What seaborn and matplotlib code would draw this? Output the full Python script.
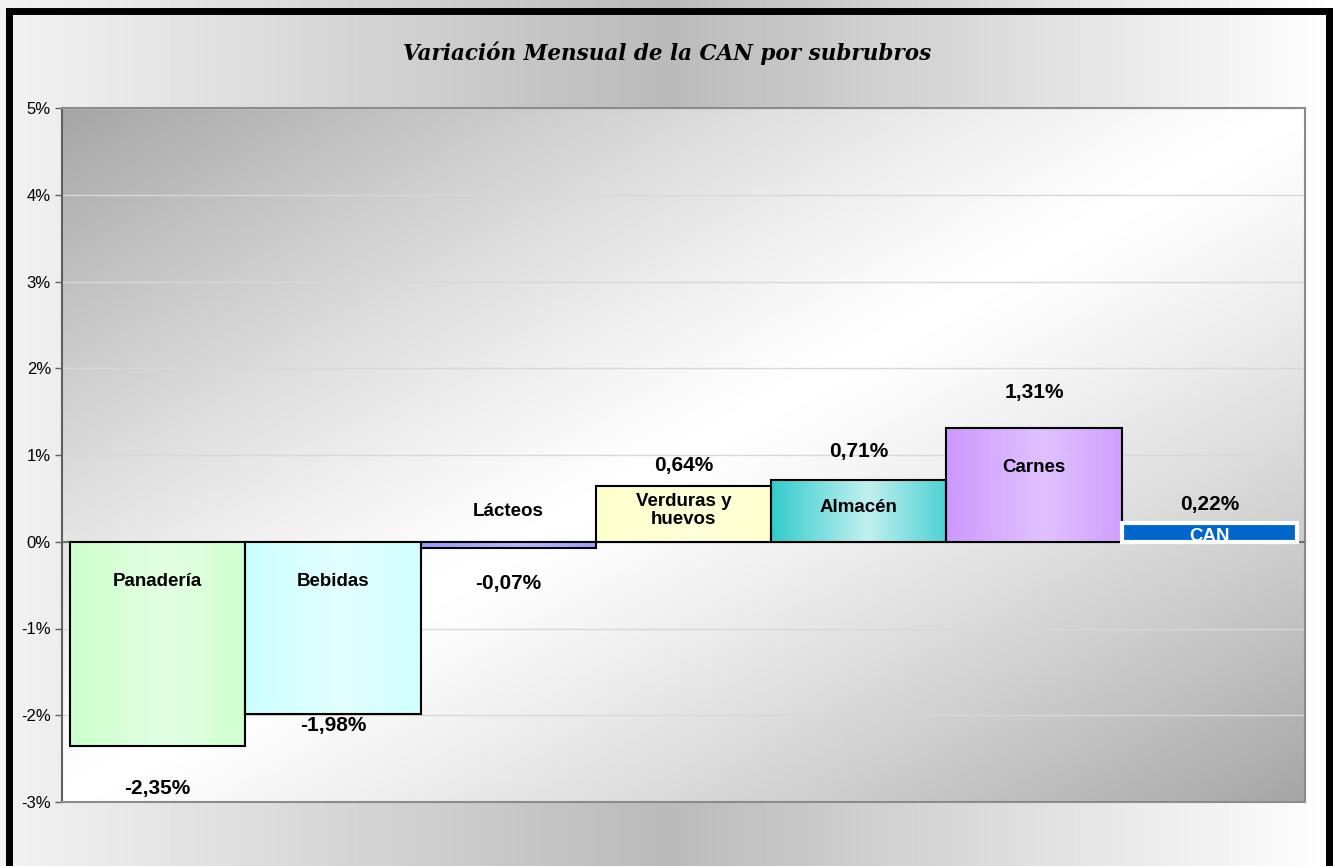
import matplotlib
matplotlib.use("Agg")
import matplotlib.pyplot as plt
import matplotlib.colors as mcolors
from matplotlib.patches import Rectangle
import numpy as np
import pandas as pd
import seaborn as sns

# ---- data ----
categories = ["Panadería", "Bebidas", "Lácteos", "Verduras y\nhuevos",
              "Almacén", "Carnes", "CAN"]
values = [-2.35, -1.98, -0.07, 0.64, 0.71, 1.31, 0.22]
value_labels = ["-2,35%", "-1,98%", "-0,07%", "0,64%", "0,71%", "1,31%", "0,22%"]
bar_colors = ["#ccffcc", "#ccffff", "#9999ff", "#ffffcc", "#33cccc",
              "#cc99ff", "#0066cc"]
yticks = [-3, -2, -1, 0, 1, 2, 3, 4, 5]
ytick_labels = [f"{t}%" for t in yticks]
title = "Variación Mensual de la CAN por subrubros"

# label placement (y in % units)
name_y = [-0.46, -0.46, 0.35, 0.36, 0.40, 0.86, 0.06]
value_y = [-2.85, -2.12, -0.48, 0.88, 1.04, 1.72, 0.43]
# how much each bar lightens towards its middle
shine = [0.45, 0.45, 0.3, 0.25, 0.7, 0.4, 0.0]

sns.set_style("ticks")
plt.rcParams["font.family"] = ["Liberation Sans", "DejaVu Sans"]
plt.rcParams["text.color"] = "black"

W, H = 1336, 866
fig = plt.figure(figsize=(W / 100, H / 100), dpi=100)

# figure background: horizontal grey gradient
bg = fig.add_axes([0, 0, 1, 1], zorder=-10)
grad = np.interp(np.linspace(0, 1, 400), [0, 0.5, 1], [0.95, 0.73, 1.0])
bg.imshow(np.tile(grad, (2, 1)), cmap="gray", vmin=0, vmax=1,
          aspect="auto", extent=(0, 1, 0, 1))
bg.axis("off")

ax = fig.add_axes([62 / W, 1 - 802 / H, (1305 - 62) / W, (802 - 108) / H])

# plot area: diagonal gradient dark -> white -> dark
n = 300
u, v = np.meshgrid(np.linspace(0, 1, n), np.linspace(1, 0, n))
t = (u + (1 - v)) / 2
shade = 1 - 0.35 * np.abs(2 * t - 1) ** 1.2
ax.imshow(shade, cmap="gray", vmin=0, vmax=1, extent=(0, 1, 0, 1),
          transform=ax.transAxes, aspect="auto", zorder=0)

df = pd.DataFrame({"cat": categories, "val": values})
sns.barplot(data=df, x="cat", y="val", hue="cat", palette=bar_colors,
            width=1.0, saturation=1, edgecolor="black", linewidth=1.5,
            legend=False, ax=ax, zorder=3)

# horizontal shading inside the bars (lighter towards the middle)
s = np.linspace(0, 1, 120)
prof = np.clip(1 - np.abs(s - 0.55) / 0.55, 0, 1)
for i, (p, col) in enumerate(zip(ax.patches, bar_colors)):
    x0, w = p.get_x(), p.get_width()
    y0, h = p.get_y(), p.get_height()
    if categories[i] == "CAN":
        p.set_edgecolor("white")
        p.set_linewidth(3)
        p.set_zorder(4)
        continue
    base = np.array(mcolors.to_rgb(col))
    img = base[None, :] + (1 - base[None, :]) * (shine[i] * prof)[:, None]
    im = ax.imshow(img[None, :, :], extent=(x0, x0 + w, min(y0, y0 + h),
                   max(y0, y0 + h)), aspect="auto", zorder=3.5)
    im.set_clip_path(p)
    p.set_facecolor("none")
    p.set_zorder(4)

ax.axhline(0, color="#707070", lw=1.5, zorder=3.2)
ax.set_xlim(-0.546, 6.546)
ax.set_ylim(-3, 5)
ax.set_yticks(yticks)
ax.set_yticklabels(ytick_labels)
ax.yaxis.grid(True, color="#d8d8d8", lw=1)
ax.set_axisbelow(True)
ax.tick_params(axis="x", bottom=False, labelbottom=False)
ax.tick_params(axis="y", length=5, width=1, color="#606060",
               labelsize=12, labelcolor="black", pad=3)
ax.set_xlabel("")
ax.set_ylabel("")
for side, c in [("left", "#606060"), ("top", "#8c8c8c"),
                ("right", "#8c8c8c"), ("bottom", "#8c8c8c")]:
    ax.spines[side].set_visible(True)
    ax.spines[side].set_color(c)
    ax.spines[side].set_linewidth(1.5)

for i, cat in enumerate(categories):
    ax.text(i, name_y[i], cat, ha="center", va="center", fontsize=13.5,
            fontweight="bold", color="white" if cat == "CAN" else "black",
            zorder=6, linespacing=1.15)
    ax.text(i, value_y[i], value_labels[i], ha="center", va="center",
            fontsize=15, fontweight="bold", color="black", zorder=6)

fig.text(667 / W, 1 - 53 / H, title, ha="center", va="center",
         fontfamily="DejaVu Serif", fontweight="bold", style="italic",
         fontsize=15.5, color="black")

# thick black frame (bottom edge runs off the canvas)
fig.add_artist(Rectangle((8.5 / W, -0.05), (1329 - 8.5) / W, 1 - 11 / H + 0.05,
                         transform=fig.transFigure, fill=False,
                         edgecolor="black", lw=5, zorder=20))

fig.savefig("out.png", dpi=100)
